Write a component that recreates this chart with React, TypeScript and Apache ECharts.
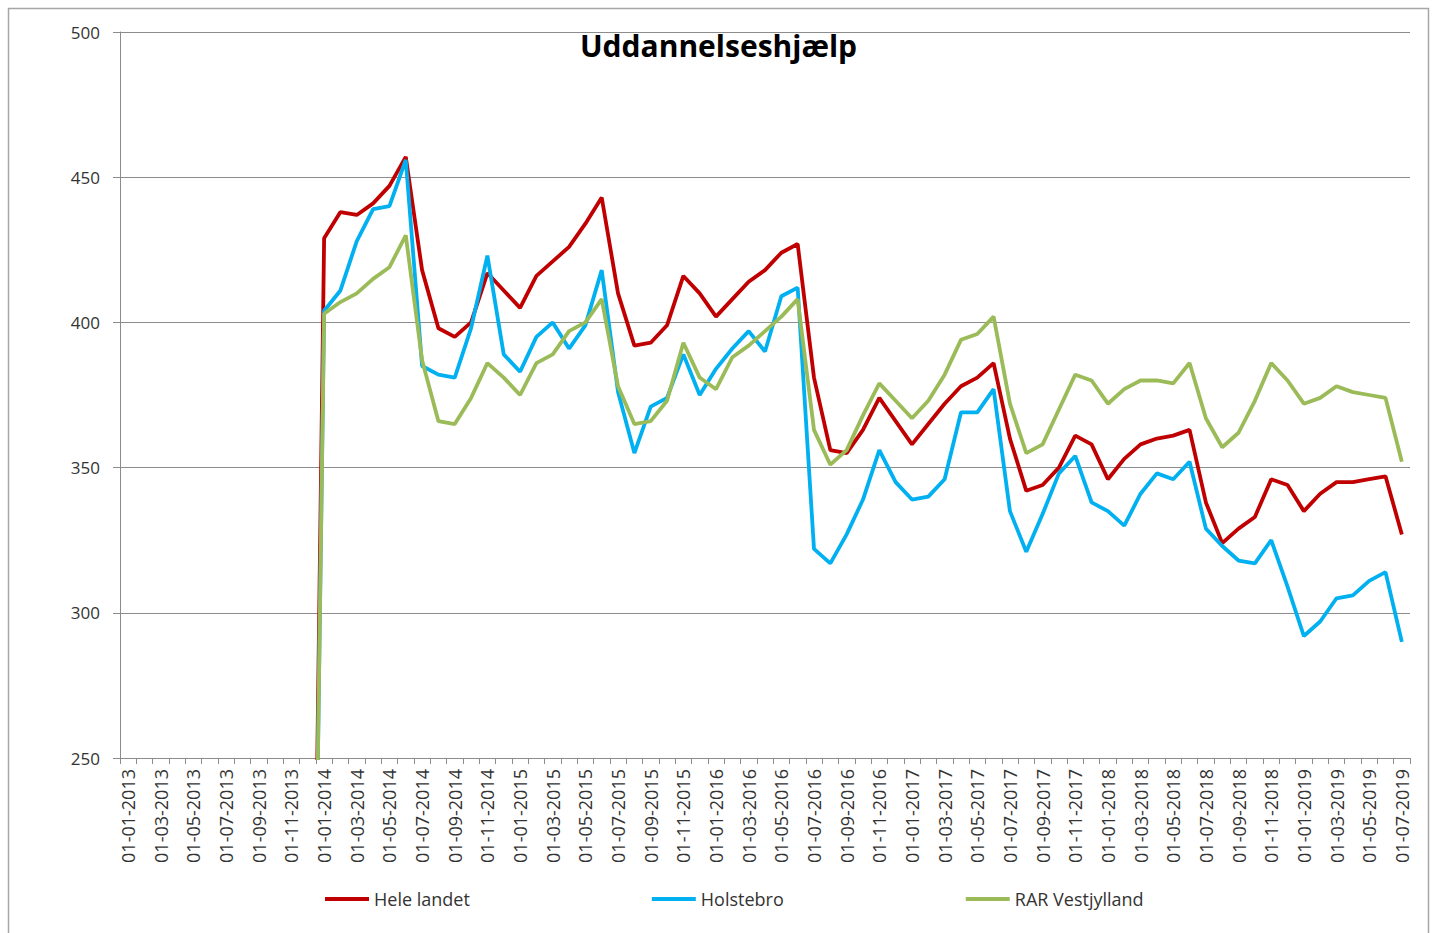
import React, { useEffect, useRef } from "react";
import * as echarts from "echarts";

// Monthly categories 01-01-2013 .. 01-07-2019
const years = [2013, 2014, 2015, 2016, 2017, 2018, 2019];
const monthNums = ["01", "02", "03", "04", "05", "06", "07", "08", "09", "10", "11", "12"];
const categories: string[] = [];
years.forEach((y) => {
  monthNums.forEach((m) => {
    if (y === 2019 && Number(m) > 7) return;
    categories.push(`01-${m}-${y}`);
  });
});

const seriesNames = ["Hele landet", "Holstebro", "RAR Vestjylland"];
const seriesColors = ["#C00000", "#00B0F0", "#9BBB59"];

// 2013: no data (registered as 0 in the source sheet)
const year2013 = [0, 0, 0, 0, 0, 0, 0, 0, 0, 0, 0, 0];

const heleLandet = [
  ...year2013,
  429, 438, 437, 441, 447, 457, 418, 398, 395, 400, 417, 411,
  405, 416, 421, 426, 434, 443, 410, 392, 393, 399, 416, 410,
  402, 408, 414, 418, 424, 427, 381, 356, 355, 363, 374, 366,
  358, 365, 372, 378, 381, 386, 360, 342, 344, 350, 361, 358,
  346, 353, 358, 360, 361, 363, 338, 324, 329, 333, 346, 344,
  335, 341, 345, 345, 346, 347, 327,
];

const holstebro = [
  ...year2013,
  404, 411, 428, 439, 440, 456, 385, 382, 381, 398, 423, 389,
  383, 395, 400, 391, 399, 418, 376, 355, 371, 374, 389, 375,
  384, 391, 397, 390, 409, 412, 322, 317, 327, 339, 356, 345,
  339, 340, 346, 369, 369, 377, 335, 321, 334, 348, 354, 338,
  335, 330, 341, 348, 346, 352, 329, 323, 318, 317, 325, 309,
  292, 297, 305, 306, 311, 314, 290,
];

const rarVestjylland = [
  ...year2013,
  403, 407, 410, 415, 419, 430, 387, 366, 365, 374, 386, 381,
  375, 386, 389, 397, 400, 408, 378, 365, 366, 373, 393, 381,
  377, 388, 392, 397, 402, 408, 363, 351, 356, 368, 379, 373,
  367, 373, 382, 394, 396, 402, 372, 355, 358, 370, 382, 380,
  372, 377, 380, 380, 379, 386, 367, 357, 362, 373, 386, 380,
  372, 374, 378, 376, 375, 374, 352,
];

const seriesData = [heleLandet, holstebro, rarVestjylland];

const FONT = "'Open Sans', 'Noto Sans', sans-serif";
const GRID_COLOR = "#8c8c8c";

export default function App() {
  const ref = useRef<HTMLDivElement>(null);

  useEffect(() => {
    if (!ref.current) return;
    const chart = echarts.init(ref.current, undefined, { renderer: "svg" });
    chart.setOption({
      animation: false,
      backgroundColor: "#ffffff",
      title: {
        text: "Uddannelseshjælp",
        left: "center",
        top: 25,
        textStyle: { fontFamily: FONT, fontWeight: "bold", fontSize: 30, color: "#000" },
      },
      graphic: [
        {
          type: "rect",
          shape: { x: 8.5, y: 8.5, width: 1420, height: 940 },
          style: { fill: "none", stroke: "#a6a6a6", lineWidth: 1.5 },
          silent: true,
        },
      ],
      legend: {
        data: seriesNames,
        left: 320,
        top: 885,
        itemGap: 182,
        itemWidth: 44,
        itemHeight: 4,
        icon: "rect",
        textStyle: { fontFamily: FONT, fontSize: 18, color: "#333" },
      },
      grid: { left: 120, right: 27, top: 32, bottom: 175, containLabel: false },
      xAxis: {
        type: "category",
        data: categories,
        boundaryGap: true,
        axisLine: { show: true, lineStyle: { color: GRID_COLOR, width: 1 } },
        axisTick: { show: true, interval: 0, length: 6, lineStyle: { color: GRID_COLOR } },
        axisLabel: {
          interval: 1,
          rotate: 90,
          margin: 11,
          fontFamily: FONT,
          fontSize: 18,
          color: "#333",
        },
        splitLine: { show: false },
      },
      yAxis: {
        type: "value",
        min: 250,
        max: 500,
        interval: 50,
        axisLine: { show: true, lineStyle: { color: GRID_COLOR, width: 1 } },
        axisTick: { show: true, length: 7, inside: false, lineStyle: { color: GRID_COLOR } },
        axisLabel: { margin: 20, fontFamily: FONT, fontSize: 17, color: "#333" },
        splitLine: { show: true, lineStyle: { color: GRID_COLOR, width: 1 } },
      },
      series: seriesNames.map((name, i) => ({
        name,
        type: "line",
        data: seriesData[i],
        showSymbol: false,
        symbol: "none",
        clip: true,
        color: seriesColors[i],
        lineStyle: { color: seriesColors[i], width: 3.8 },
      })),
    });
    return () => chart.dispose();
  }, []);

  return (
    <div
      ref={ref}
      style={{ position: "absolute", left: 0, top: 0, width: 1437, height: 933 }}
    />
  );
}
